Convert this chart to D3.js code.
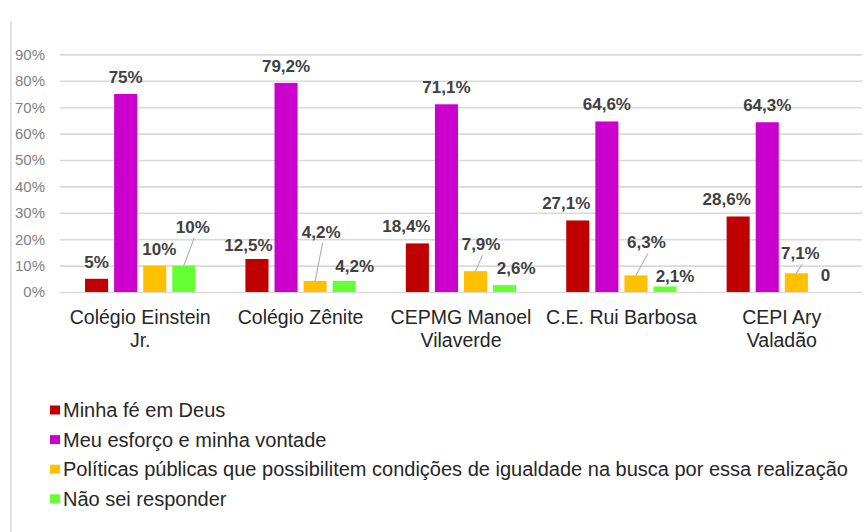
<!DOCTYPE html>
<html>
<head>
<meta charset="utf-8">
<script src="https://cdn.jsdelivr.net/npm/d3@7"></script>
<style>
  html, body { margin: 0; padding: 0; background: #ffffff; }
  svg { display: block; }
</style>
</head>
<body>
<svg id="chart" width="868" height="532"></svg>
<script>
// ---- data ----
const categories = ["Colégio Einstein Jr.", "Colégio Zênite", "CEPMG Manoel Vilaverde", "C.E. Rui Barbosa", "CEPI Ary Valadão"];
const seriesNames = [
  "Minha fé em Deus",
  "Meu esforço e minha vontade",
  "Políticas públicas que possibilitem condições de igualdade na busca por essa realização",
  "Não sei responder"
];
const feEmDeus      = [5, 12.5, 18.4, 27.1, 28.6];
const esforco       = [75, 79.2, 71.1, 64.6, 64.3];
const politicas     = [10, 4.2, 7.9, 6.3, 7.1];
const naoSei        = [10, 4.2, 2.6, 2.1, 0];
const valueLabels = [
  ["5%", "12,5%", "18,4%", "27,1%", "28,6%"],
  ["75%", "79,2%", "71,1%", "64,6%", "64,3%"],
  ["10%", "4,2%", "7,9%", "6,3%", "7,1%"],
  ["10%", "4,2%", "2,6%", "2,1%", "0"]
];
const yTicks = [0, 10, 20, 30, 40, 50, 60, 70, 80, 90];
const yTickLabels = ["0%", "10%", "20%", "30%", "40%", "50%", "60%", "70%", "80%", "90%"];

// ---- layout / style (kept apart from data) ----
const colors = ["#C00000", "#CC00CC", "#FFC000", "#66FF33"];
// manual label nudges [dx, dy] per series, per category
const labelNudges = [
  [[0, 0], [-8.5, 3], [-11, 0], [-11.5, 0], [-11.5, 0]],
  [[0, 0], [0, 0], [0, 0], [0, 0], [0, 0]],
  [[4.5, 0], [6, -32], [5.5, -10], [10.5, -16], [4, -3]],
  [[9, -22], [10.5, 2.5], [11.5, 0], [10, 7], [0, 0]]
];

const svg = d3.select("#chart");
const plot = { left: 60, right: 862, top: 54.4, bottom: 292 };

const seriesValues = [feEmDeus, esforco, politicas, naoSei];

const x0 = d3.scaleBand().domain(categories).range([plot.left, plot.right]).paddingInner(0).paddingOuter(0);
const x1 = d3.scaleBand().domain(d3.range(seriesNames.length)).range([0, x0.bandwidth()])
  .paddingInner(6 / 29).paddingOuter(0.86);
const y = d3.scaleLinear().domain([0, 90]).range([plot.bottom, plot.top]);

// left border line
svg.append("line")
  .attr("x1", 11).attr("x2", 11).attr("y1", 21).attr("y2", 532)
  .attr("stroke", "#d9d9d9").attr("stroke-width", 1.5);

// y axis with gridlines
const yAxis = d3.axisLeft(y)
  .tickValues(yTicks)
  .tickFormat((d, i) => yTickLabels[i])
  .tickSize(-(plot.right - plot.left))
  .tickPadding(15);
const yg = svg.append("g").attr("transform", `translate(${plot.left},0)`).call(yAxis);
yg.select(".domain").remove();
yg.selectAll(".tick line").attr("stroke", "#d9d9d9").attr("stroke-width", 1.6);
yg.selectAll(".tick text")
  .attr("fill", "#7f7f7f")
  .style("font-family", "'Liberation Sans', Arial, sans-serif")
  .style("font-size", "15px");

// bars
const groups = svg.append("g").selectAll("g")
  .data(categories)
  .join("g")
  .attr("transform", d => `translate(${x0(d)},0)`);

groups.each(function (cat, ci) {
  const g = d3.select(this);
  seriesValues.forEach((vals, si) => {
    const v = vals[ci];
    g.append("rect")
      .attr("x", x1(si))
      .attr("y", y(v))
      .attr("width", x1.bandwidth())
      .attr("height", y(0) - y(v))
      .attr("fill", colors[si]);
  });
});

// data labels + leader lines
const labelLayer = svg.append("g");
seriesValues.forEach((vals, si) => {
  vals.forEach((v, ci) => {
    const cx = x0(categories[ci]) + x1(si) + x1.bandwidth() / 2;
    const top = y(v);
    const [dx, dy] = labelNudges[si][ci];
    const lx = cx + dx;
    const ly = top - 11 + dy;
    if (dy <= -3) {
      labelLayer.append("line")
        .attr("x1", lx + 1.5).attr("y1", ly + 5)
        .attr("x2", cx).attr("y2", top)
        .attr("stroke", "#a6a6a6").attr("stroke-width", 1);
    }
    labelLayer.append("text")
      .attr("x", lx).attr("y", ly)
      .attr("text-anchor", "middle")
      .attr("fill", "#404040")
      .style("font-family", "'Liberation Sans', Arial, sans-serif")
      .style("font-size", "17px")
      .style("font-weight", "bold")
      .text(valueLabels[si][ci]);
  });
});

// x axis category labels (wrapped)
const xAxis = d3.axisBottom(x0).tickSize(0).tickPadding(0);
const xg = svg.append("g").attr("transform", `translate(0,${plot.bottom})`).call(xAxis);
xg.select(".domain").remove();
xg.selectAll(".tick text")
  .attr("fill", "#262626")
  .style("font-family", "'Liberation Sans', Arial, sans-serif")
  .style("font-size", "19.5px")
  .attr("y", 0).attr("dy", 0)
  .each(function (d) {
    const t = d3.select(this);
    const words = d.split(" ");
    t.text(null);
    let lines = [];
    let line = [];
    const probe = t.append("tspan");
    words.forEach(w => {
      line.push(w);
      probe.text(line.join(" "));
      if (probe.node().getComputedTextLength() > 151.5 && line.length > 1) {
        line.pop();
        lines.push(line.join(" "));
        line = [w];
      }
    });
    lines.push(line.join(" "));
    probe.remove();
    lines.forEach((ln, i) => {
      t.append("tspan").attr("x", 0).attr("y", 31.5 + i * 23.5).text(ln);
    });
  });

// legend
const legend = svg.append("g").attr("transform", "translate(50,0)");
seriesNames.forEach((name, i) => {
  const cy = 410 + i * 29.6;
  legend.append("rect")
    .attr("x", 0).attr("y", cy - 4.5).attr("width", 10).attr("height", 9)
    .attr("fill", colors[i]);
  legend.append("text")
    .attr("x", 13).attr("y", cy + 7)
    .attr("fill", "#262626")
    .style("font-family", "'Liberation Sans', Arial, sans-serif")
    .style("font-size", "20px")
    .text(name);
});
</script>
</body>
</html>
